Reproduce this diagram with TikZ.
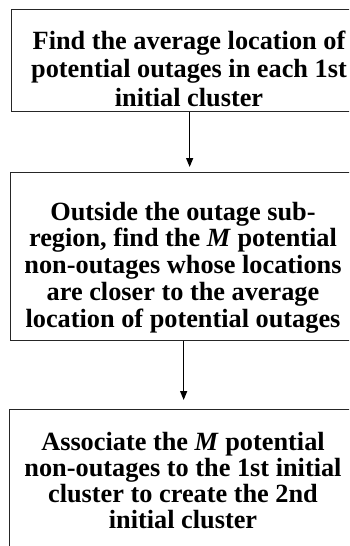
\documentclass[tikz,border=0pt]{standalone}
\usepackage{fontspec}
\setmainfont{Liberation Serif}
\usetikzlibrary{arrows.meta}
\begin{document}
\begin{tikzpicture}[x=1pt,y=1pt,
  box/.style={draw=black!85, line width=1.3pt, anchor=north west, inner sep=0pt},
  txt/.style={font=\bfseries\fontsize{26.3}{28.5}\selectfont, align=center, inner sep=0pt, anchor=base},
  txtb/.style={txt, font=\bfseries\fontsize{26.3}{26.75}\selectfont},
  txtc/.style={txt, font=\bfseries\fontsize{26.3}{26}\selectfont},
  arr/.style={-{Triangle[length=9pt,width=7pt]}, line width=1.3pt}]
\useasboundingbox (0,0) rectangle (349,-546);
\clip (0,0) rectangle (349,-546);
\node[box, minimum width=356pt, minimum height=102pt] (b1) at (11,-9) {};
\node[box, minimum width=346pt, minimum height=168pt] (b2) at (10,-172) {};
\node[box, minimum width=350pt, minimum height=160pt] (b3) at (9,-409) {};
\node[txt] (t1) at (189,-106) {Find the average location of\\potential outages in each 1st\\initial cluster};
\node[txtb] (t2) at (183,-327) {Outside the outage sub-\\region, find the \textit{M} potential\\non-outages whose locations\\are closer to the average\\location of potential outages};
\node[txtc] (t3) at (183,-528) {Associate the \textit{M} potential\\non-outages to the 1st initial\\cluster to create the 2nd\\initial cluster};
\draw[arr, shorten >=5pt] (b1.south) -- (b1.south |- b2.north);
\draw[arr, shorten >=9pt] (b2.south) -- (b2.south |- b3.north);
\end{tikzpicture}
\end{document}
